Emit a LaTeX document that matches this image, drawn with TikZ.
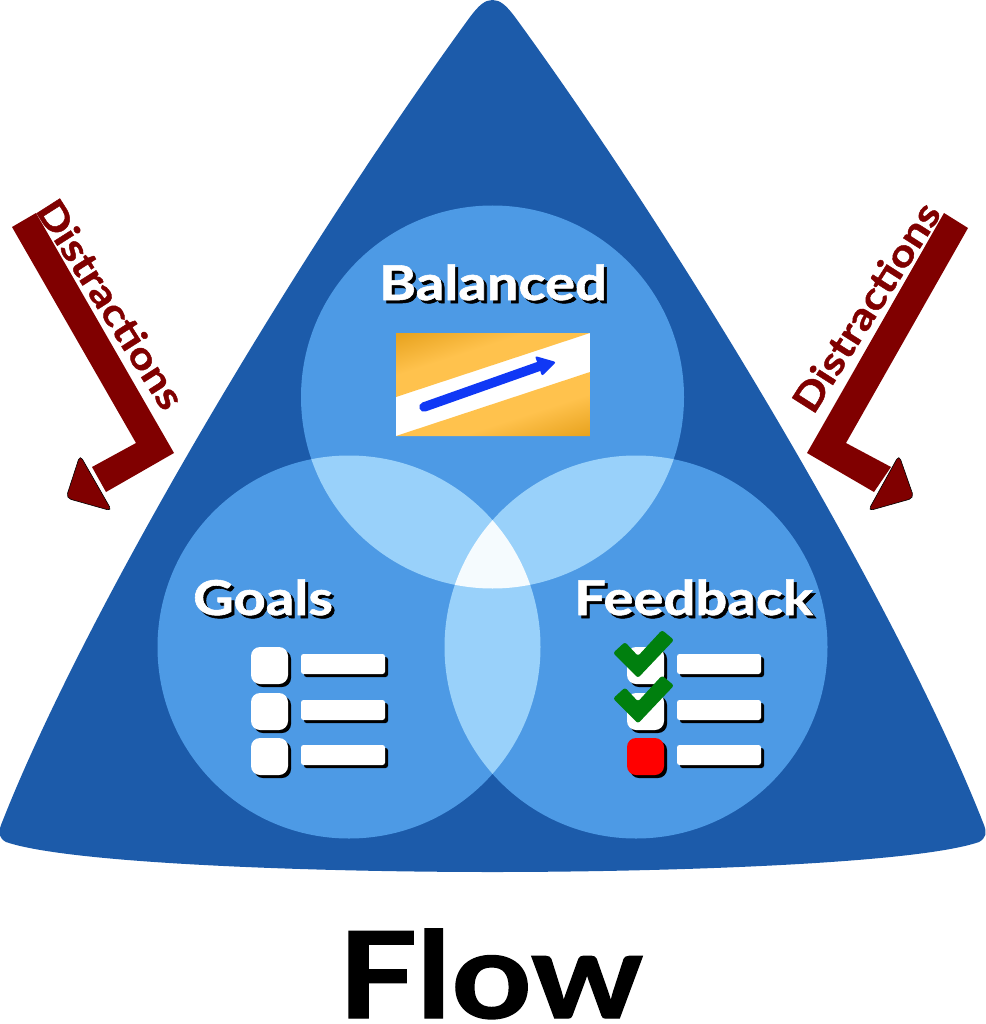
\documentclass[tikz,border=0pt]{standalone}
\usepackage{fontspec}
\setmainfont{Lato}[BoldFeatures={FakeBold=1.2,FakeStretch=1.17}]
\definecolor{tri}{HTML}{1C5BAA}
\definecolor{one}{HTML}{4D9AE5}
\definecolor{two}{HTML}{99D1FA}
\definecolor{three}{HTML}{F5FBFE}
\definecolor{maroon}{HTML}{800000}
\definecolor{chk}{HTML}{007F0E}
\definecolor{ordk}{HTML}{E8A31F}
\definecolor{orlt}{HTML}{FFC24D}
\definecolor{barrow}{HTML}{1038F5}
\pgfdeclareverticalshading{orband}{100bp}{color(0bp)=(ordk); color(30bp)=(ordk); color(40bp)=(orlt); color(60bp)=(orlt); color(70bp)=(ordk); color(100bp)=(ordk)}
\tikzset{
  lab/.style={font=\bfseries\fontsize{48}{48}\selectfont,inner sep=0pt,anchor=base},
  dist/.style={font=\bfseries\fontsize{38}{39}\selectfont,text=maroon,inner sep=0pt},
  headtip/.style={fill=maroon,draw=black,line width=0.6pt,rounded corners=5pt},
  rbox/.style={rounded corners=9pt},
  rbar/.style={rounded corners=2.5pt},
  chkmark/.style={fill=chk,rounded corners=2.5pt},
}
\newcommand{\shlabel}[4]{%
  \node[lab,text=black] at (#1+3,#2+3) {#3};
  \node[lab,text=white] (#4) at (#1,#2) {#3};}
\newcommand{\itemrow}[4]{% x box, x bar, y, fill
  \fill[black,rbox] (#1+3,#3+3) rectangle ++(37,37);
  \fill[#4,rbox] (#1,#3) rectangle ++(37,37);
  \fill[black,rbar] (#2+3,#3+10) rectangle ++(84,20);
  \fill[white,rbar] (#2,#3+7) rectangle ++(84,20);}
\newcommand{\checkmark}[1]{%
  \fill[chkmark] (625,642+#1) -- (638,656+#1) -- (662,630+#1) -- (674,640+#1) -- (638,678+#1) -- (613,653+#1) -- cycle;}
\begin{document}
\begin{tikzpicture}[x=1pt,y=-1pt]
\useasboundingbox (0,0) rectangle (985,1024);
% triangle
\fill[tri] (492.5,0) .. controls (485,0) and (479,5) .. (470,17)
  .. controls (300,250) and (85,610) .. (1,825)
  .. controls (-2,833) and (-1,838) .. (6,842)
  .. controls (70,864) and (320,872) .. (492.5,872)
  .. controls (665,872) and (915,864) .. (979,842)
  .. controls (986,838) and (987,833) .. (984,825)
  .. controls (900,610) and (685,250) .. (515,17)
  .. controls (506,5) and (500,0) .. (492.5,0) -- cycle;
% circles
\coordinate (ct) at (492.5,397);
\coordinate (cl) at (349,647);
\coordinate (cr) at (636,647);
\def\rr{191.5}
\fill[one] (ct) circle (\rr);
\fill[one] (cl) circle (\rr);
\fill[one] (cr) circle (\rr);
\begin{scope}\clip (ct) circle (\rr); \fill[two] (cl) circle (\rr); \fill[two] (cr) circle (\rr);\end{scope}
\begin{scope}\clip (cl) circle (\rr); \fill[two] (cr) circle (\rr);\end{scope}
\begin{scope}\clip (ct) circle (\rr); \clip (cl) circle (\rr); \fill[three] (cr) circle (\rr);\end{scope}
% balanced picture
\fill[white] (396,333) rectangle (590,436);
\begin{scope}
\clip (396,333) -- (590,333) -- (396,397) -- cycle (590,436) -- (396,436) -- (590,372) -- cycle;
\shade[shading=orband,shading angle=18] (396,287.5) rectangle (590,481.5);
\end{scope}
\draw[barrow,line width=9.5pt,line cap=round] (424,407) -- (540,366);
\fill[barrow,rounded corners=2pt] (535,356) -- (556,362) -- (542,376) -- cycle;
% labels
\shlabel{493}{300}{Balanced}{lb}
\shlabel{263}{615}{Goals}{lg}
\shlabel{693.5}{615}{Feedback}{lf}
% lists
\itemrow{251}{301}{647}{white}
\itemrow{251}{301}{693}{white}
\itemrow{251}{301}{738}{white}
\itemrow{627}{677}{647}{white}
\itemrow{627}{677}{693}{white}
\itemrow{627}{677}{738}{red}
\checkmark{0}
\checkmark{45.5}
% left arrow
\fill[maroon] (12,227) -- (36,213) -- (174,453) -- (106,492) -- (92,467) -- (136,443) -- cycle;
\draw[headtip] (80,455) -- (66,498) -- (112,511) -- cycle;
\node[dist,rotate=-57.5] (dl) at (111,304) {Distractions};
% right arrow
\fill[maroon] (968,228) -- (944,213) -- (807,453) -- (874,492) -- (891,467) -- (846,443) -- cycle;
\draw[headtip] (899,455) -- (914,498) -- (868,511) -- cycle;
\node[dist,rotate=57.5] (dr) at (866,307) {Distractions};
% title
\node[font=\bfseries\fontsize{120}{120}\selectfont,inner sep=0pt,anchor=base] (flow) at (490.5,1018) {Flow};
\end{tikzpicture}
\end{document}
